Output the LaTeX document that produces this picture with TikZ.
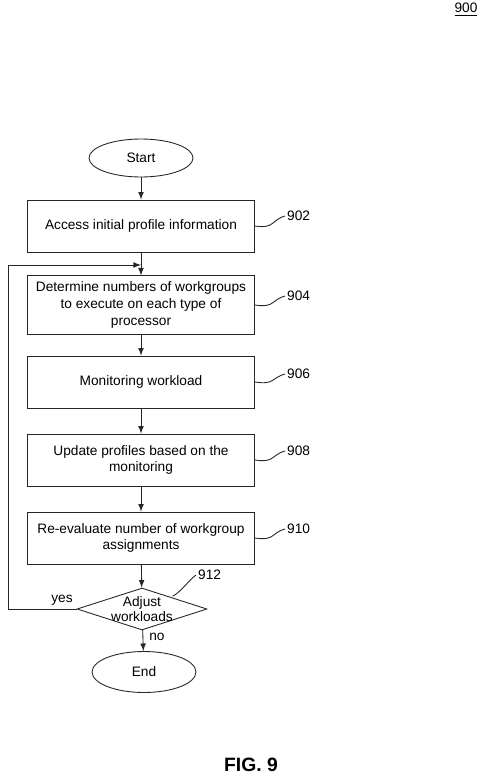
\documentclass[tikz,border=0pt]{standalone}
\usepackage{fontspec}
\setmainfont{Liberation Sans}
\usetikzlibrary{shapes.geometric}

\tikzset{
  term/.style={draw, ellipse, inner sep=0pt, minimum width=2.08cm, minimum height=0.76cm},
  stepbox/.style={draw, rectangle, align=center, minimum width=4.54cm, minimum height=1.04cm},
  decide/.style={draw, diamond, inner sep=0pt, minimum width=2.6cm, minimum height=0.84cm},
  refnum/.style={anchor=west, inner sep=1pt},
  squig/.style={to path={.. controls +(20,3) and +(-14,4) .. (\tikztotarget)}}
}

\begin{document}
\begin{tikzpicture}[>=latex, x=0.02cm, y=-0.02cm, line width=0.5pt, draw=black!85,
  font=\fontsize{7.8}{9.6}\selectfont]
  \useasboundingbox (0,0) rectangle (485,778);
  \node (fignum) at (466,10) {\underline{900}};

  \node (start) at (141,158) [term] {Start};
  \node (access) at (141,226) [stepbox] {Access initial profile information};
  \coordinate (merge) at (141,265);
  \node (determine) at (141,305) [stepbox] {Determine numbers of workgroups\\to execute on each type of\\processor};
  \node (monitor) at (141,382) [stepbox] {Monitoring workload};
  \node (update) at (141,460) [stepbox] {Update profiles based on the\\monitoring};
  \node (reeval) at (141,538) [stepbox] {Re-evaluate number of workgroup\\assignments};
  \node (adjust) at (142,609) [decide, label={[align=center, font=\fontsize{7.8}{8.6}\selectfont]center:Adjust\\workloads}] {};
  \node (stop) at (144,672) [term, minimum height=0.82cm] {End};

  \node (l902) at (285,216) [refnum] {902};
  \node (l904) at (285,296) [refnum] {904};
  \node (l906) at (285,374) [refnum] {906};
  \node (l908) at (285,451) [refnum] {908};
  \node (l910) at (285,529) [refnum] {910};
  \node (l912) at (196,575) [refnum] {912};

  \draw [->] (start) -- (access);
  \draw [->] (access) -- (determine);
  \draw [->] (determine) -- (monitor);
  \draw [->] (monitor) -- (update);
  \draw [->] (update) -- (reeval);
  \draw [->] (reeval) -- (adjust);
  \draw [->] (adjust) -- (stop);
  \draw [->] (adjust.west) -- (8,609) |- (merge);
  \node at (62,600) {yes};
  \node at (157,637) {no};

  \draw (access.east) to [squig] (l902.west);
  \draw (determine.east) to [squig] (l904.west);
  \draw (monitor.east) to [squig] (l906.west);
  \draw (update.east) to [squig] (l908.west);
  \draw (reeval.east) to [squig] (l910.west);
  \draw (adjust.north east) ++(-2,-2) .. controls +(10,-6) and +(-8,6) .. (l912.west);

  \node (caption) at (251,765) {\fontsize{11}{13}\selectfont\bfseries FIG. 9};
\end{tikzpicture}
\end{document}
